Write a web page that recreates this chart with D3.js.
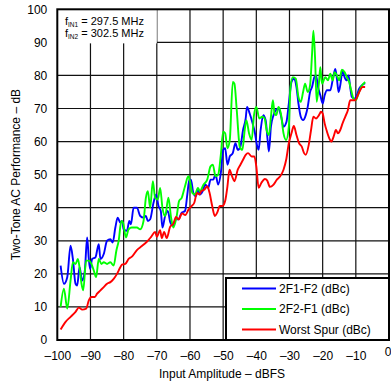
<!DOCTYPE html>
<html><head><meta charset="utf-8">
<script src="https://cdn.jsdelivr.net/npm/d3@7/dist/d3.min.js"></script>
<style>body{margin:0;background:#fff}svg{display:block;font-family:"Liberation Sans",Arial,sans-serif}</style>
</head><body><svg id="c" width="391" height="386"></svg>
<script>
const xTicks = [-100,-90,-80,-70,-60,-50,-40,-30,-20,-10,0];
const yTicks = [0,10,20,30,40,50,60,70,80,90,100];
const seriesNames = ["2F1-F2 (dBc)", "2F2-F1 (dBc)", "Worst Spur (dBc)"];
const seriesColors = ["#0000ff", "#00ff00", "#ff0000"];

const blue = [[-99,22.5],[-98,17],[-97,19],[-96,28.5],[-95.3,24.5],[-94.5,17],[-94,16.5],[-93.3,22],[-92.5,18],[-91.7,21],[-91,31],[-90.5,24.5],[-90.1,21.5],[-89.5,24.5],[-88.5,25],[-87.5,29],[-87,24.5],[-86,26],[-85,30],[-84,30.5],[-83.3,29.5],[-82.5,34],[-81.8,37],[-81,35.5],[-80.5,36],[-80,33.5],[-79,33],[-78.3,36],[-77.8,35],[-77,40],[-76,40],[-75,37.5],[-74,37],[-73.3,37.5],[-72.7,36],[-72,36.5],[-71,41.5],[-70.2,44],[-69.5,40.5],[-68.8,39],[-68.3,34],[-67.5,37.5],[-66.7,39],[-65.9,35.5],[-65,34.5],[-64.3,36.5],[-63.5,36.5],[-62.5,38.5],[-61.5,39],[-60.8,44],[-60.2,48.5],[-59.7,48.5],[-59,44.5],[-58.2,43.5],[-57.6,45.5],[-57,44],[-56.2,45],[-55.4,47],[-54.5,46],[-53.8,48.5],[-53,48.5],[-52.3,50],[-51.5,47],[-50.7,50.5],[-50,57.5],[-49.4,58],[-48.7,53],[-48,55.5],[-47.1,56.5],[-46.3,59.5],[-45.6,57.5],[-44.8,58.5],[-44,63.5],[-43.2,67],[-42.8,70.5],[-42,68.5],[-41.1,65.5],[-40.5,63],[-39.7,58.5],[-39.3,57.5],[-38.7,63.5],[-37.9,68],[-37.2,66.5],[-36.6,60.5],[-36.2,57],[-35.6,64.5],[-34.8,68],[-34.1,69.5],[-33.3,70],[-32.5,67.5],[-31.8,64.5],[-30.9,66],[-30.2,71.5],[-29.4,78],[-28.7,79],[-27.9,76.5],[-27.3,71.5],[-26.6,67.5],[-25.9,66.5],[-25.1,68],[-24.5,70.5],[-23.8,75],[-23.2,76.5],[-22.5,79.5],[-22,80],[-21.4,76.5],[-20.7,74],[-20,71.5],[-19.4,74],[-18.7,75.5],[-17.7,75.5],[-17,78.5],[-16.2,82],[-15.7,79],[-15.2,75],[-14.7,77],[-14,81.5],[-13.4,79.5],[-12.7,78.5],[-12.2,80],[-11.7,76.5],[-11.2,73.5],[-10.4,73],[-9.7,74],[-9,76],[-8.2,77],[-7.2,77.7]];

const green = [[-99,10],[-98,15.5],[-97,9.5],[-96,18],[-95.3,23.5],[-94.5,23],[-93.8,24.5],[-93.3,22],[-92.7,17],[-92.2,15],[-91.3,24],[-90.5,24],[-89.7,23],[-89,21],[-88.3,19],[-87.5,24.5],[-86.7,23],[-86,23.5],[-85,23],[-84,23.5],[-83,22.5],[-82.2,27],[-81.5,30],[-80.7,36],[-80.2,35.5],[-79.3,31],[-78.5,33.5],[-77.5,34],[-76,34],[-75,33.5],[-74,36],[-73.3,43],[-72.7,45],[-72,40],[-71.2,48],[-70.5,43],[-69.7,42.5],[-69,46],[-68.3,40],[-67.5,37.5],[-66.5,43],[-65.7,37],[-65,34],[-64,37.5],[-63.3,42],[-62.5,43],[-61.5,46.5],[-60.5,49.5],[-60,48],[-59.3,44.5],[-58.5,44],[-57.6,46],[-57,45],[-55.9,47],[-54.8,48.5],[-53.8,52.5],[-53.1,53],[-52.3,49.5],[-51.5,50],[-50.7,56],[-50,63],[-49.4,62.5],[-48.7,58],[-48,60.5],[-47.1,78],[-46.6,77.5],[-45.9,69.5],[-45,58.5],[-44.2,57.5],[-43.5,63.5],[-43,66.5],[-42.2,62.5],[-41.4,60.5],[-40.7,68],[-40,70.5],[-39.1,67],[-38.2,67.5],[-37.5,67],[-36.9,63.5],[-36.2,62],[-35.6,67.5],[-35,72.5],[-34.5,68.5],[-34,68],[-33.3,70.5],[-32.6,68.5],[-31.8,62.5],[-31,60.5],[-30.2,64.5],[-29.7,76.5],[-29,79.5],[-28.1,79],[-27.3,73.5],[-26.6,72],[-25.9,75],[-25.3,77.5],[-24.5,75],[-23.8,77],[-23.2,86.5],[-22.8,93.5],[-22.3,85.5],[-21.8,72],[-21.1,78],[-20.7,82.5],[-20.2,77.5],[-19.2,79.5],[-18.4,78.5],[-17.7,80.5],[-17,78.5],[-16.4,81],[-15.7,80],[-15,78.5],[-14.2,81.7],[-13.4,81],[-12.7,79.5],[-12,78],[-11.4,75.5],[-10.7,73],[-10,72.5],[-9.2,74.5],[-8.4,76.5],[-7.2,78]];

const red = [[-99,3.2],[-97.5,5.5],[-96,7],[-94.5,8.5],[-93.5,9.8],[-92.5,9.2],[-91.3,9.5],[-90.5,12],[-89.7,13],[-88.7,13],[-88,14],[-87,15],[-86,16],[-85,17],[-84,17.5],[-83,18.5],[-82,20],[-81,22],[-80.5,22.8],[-79.5,23],[-78.5,24.5],[-77.5,25.2],[-76,27.2],[-74.5,28.4],[-73,29.7],[-71.7,31.2],[-70.5,32.7],[-70,31.2],[-69,33.2],[-68.5,30.8],[-67.8,32.7],[-67,30.8],[-66,34.2],[-65,35.2],[-64.2,37.2],[-63.4,36.4],[-62.4,38.3],[-61.4,37.8],[-60.4,39.5],[-59.5,40.5],[-58.7,41.5],[-57.9,44.5],[-57.2,44],[-56.6,45],[-55.6,45.5],[-54.8,46.5],[-54.1,44.5],[-53.3,40.5],[-52.5,37.5],[-51.8,38.5],[-51,40.5],[-50.2,40.5],[-49.4,42],[-48.7,46.5],[-48.1,51.5],[-47.3,49.5],[-46.6,48],[-45.6,51.5],[-44.8,53],[-44,54.5],[-43.2,56],[-42.5,56.5],[-41.4,55.5],[-40.6,55.5],[-40,52.5],[-39.3,46],[-38.5,47.5],[-37.4,48.7],[-36.7,48.2],[-35.9,46.3],[-34.8,47],[-33.8,48.5],[-32.8,49.5],[-31.8,51.5],[-31,54.5],[-30.2,59.5],[-29.4,62.5],[-28.7,64.7],[-27.9,62],[-27.1,59.5],[-26.3,58.5],[-25.6,56.5],[-25.1,56],[-24.2,59],[-23.5,63.5],[-22.8,67.5],[-22,67],[-21.1,68],[-20.5,69],[-20,68.5],[-19.4,65.5],[-18.7,63],[-18,61],[-17.4,60],[-16.7,61.5],[-16,63.5],[-15.4,62.5],[-14.7,63.5],[-14,65.5],[-13.2,67.5],[-12.4,69.5],[-11.7,72.5],[-11,72.5],[-10.2,72.5],[-9.4,74],[-8.7,75.5],[-8,76.5],[-7.2,76.5]];

const allSeries = [blue, green, red];

const svg = d3.select("#c");
const L = 57.3, T = 9.3, R = 389, B = 340;
const x = d3.scaleLinear().domain([-100, 0]).range([L, R]);
const y = d3.scaleLinear().domain([0, 100]).range([B, T]);

// grid
const grid = svg.append("g").attr("stroke", "#111").attr("stroke-width", 1.2);
grid.selectAll("line.v").data(xTicks.slice(1, -1)).join("line")
  .attr("x1", d => x(d)).attr("x2", d => x(d)).attr("y1", T).attr("y2", B);
grid.selectAll("line.h").data(yTicks.slice(1, -1)).join("line")
  .attr("y1", d => y(d)).attr("y2", d => y(d)).attr("x1", L).attr("x2", R);

// annotation box background
svg.append("rect").attr("x", L).attr("y", T).attr("width", x(-70) - L).attr("height", y(89.7) - T).attr("fill", "#fff");

// series
const line = d3.line().x(d => x(d[0])).y(d => y(d[1])).curve(d3.curveMonotoneX);
allSeries.forEach((s, i) => {
  svg.append("path").attr("d", line(s)).attr("fill", "none")
    .attr("stroke", seriesColors[i]).attr("stroke-width", 1.9).attr("stroke-linejoin", "round");
});

// frame
svg.append("rect").attr("x", L).attr("y", T).attr("width", R - L).attr("height", B - T)
  .attr("fill", "none").attr("stroke", "#000").attr("stroke-width", 2);

// axes labels
const fmt = d => d < 0 ? "\u2013" + Math.abs(d) : String(d);
const xa = svg.append("g").attr("transform", `translate(0,${B})`)
  .call(d3.axisBottom(x).tickValues(xTicks).tickSize(0).tickPadding(11).tickFormat(fmt));
xa.select(".domain").remove();
xa.selectAll("text").attr("font-size", 12).attr("fill", "#000").attr("font-family", "Liberation Sans, Arial, sans-serif");
xa.selectAll(".tick").filter(d => d === 0).select("text")
  .attr("text-anchor", "end").attr("x", 391 - x(0)).attr("dy", "0.4em");
const ya = svg.append("g").attr("transform", `translate(${L},0)`)
  .call(d3.axisLeft(y).tickValues(yTicks).tickSize(0).tickPadding(10).tickFormat(fmt));
ya.select(".domain").remove();
ya.selectAll("text").attr("font-size", 12).attr("fill", "#000").attr("font-family", "Liberation Sans, Arial, sans-serif");

svg.append("text").attr("x", 222).attr("y", 378).attr("text-anchor", "middle")
  .attr("font-size", 12).text("Input Amplitude \u2013 dBFS");
svg.append("text").attr("transform", `translate(20,${(T + B) / 2}) rotate(-90)`).attr("text-anchor", "middle")
  .attr("font-size", 12).text("Two-Tone AC Performance \u2013 dB");

// annotation text
const ann = [["IN1", " = 297.5 MHz"], ["IN2", " = 302.5 MHz"]];
ann.forEach((a, i) => {
  const t = svg.append("text").attr("x", 65).attr("y", 25 + i * 12).attr("font-size", 11);
  t.append("tspan").text("f");
  t.append("tspan").attr("font-size", 6.5).attr("dy", 2).text(a[0]);
  t.append("tspan").attr("dy", -2).text(a[1]);
});

// legend
const lg = svg.append("g");
lg.append("rect").attr("x", 226).attr("y", 278).attr("width", R - 226).attr("height", B - 278)
  .attr("fill", "#fff").attr("stroke", "#000").attr("stroke-width", 2);
seriesNames.forEach((n, i) => {
  const yy = 288.5 + i * 20.5;
  lg.append("line").attr("x1", 242).attr("x2", 276).attr("y1", yy).attr("y2", yy)
    .attr("stroke", seriesColors[i]).attr("stroke-width", 1.8);
  lg.append("text").attr("x", 279).attr("y", yy + 4).attr("font-size", 12).text(n);
});
</script></body></html>
